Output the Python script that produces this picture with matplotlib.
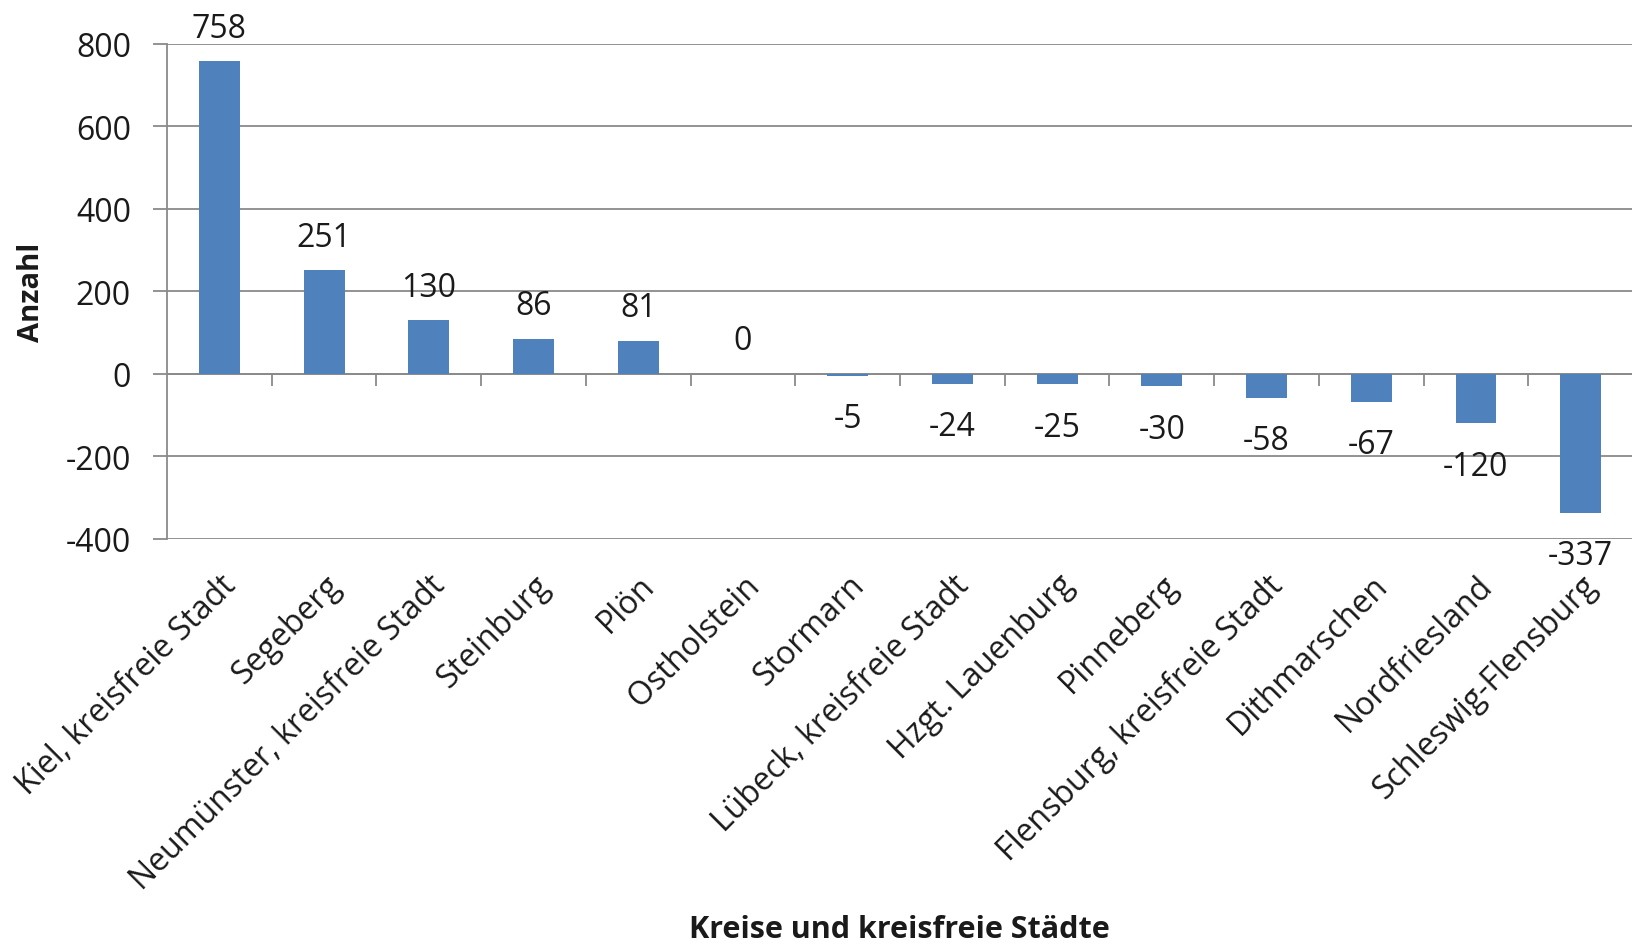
# plot.py
# Saldo je Kreis / kreisfreie Stadt als Säulendiagramm

import matplotlib.pyplot as plt
import numpy as np

kreise = ["Kiel, kreisfreie Stadt", "Segeberg", "Neumünster, kreisfreie Stadt",
          "Steinburg", "Plön", "Ostholstein", "Stormarn", "Lübeck, kreisfreie Stadt",
          "Hzgt. Lauenburg", "Pinneberg", "Flensburg, kreisfreie Stadt",
          "Dithmarschen", "Nordfriesland", "Schleswig-Flensburg"]
anzahl = [758, 251, 130, 86, 81, 0, -5, -24, -25, -30, -58, -67, -120, -337]
yticks = [-400, -200, 0, 200, 400, 600, 800]

plt.rcParams['font.family'] = ['Open Sans', 'DejaVu Sans']
textcol = '#1a1a1a'
gridcol = '#8a8a8a'
fs = 23

fig = plt.figure(figsize=(16.33, 9.45), dpi=100)
ax = fig.add_axes([0.1023, 0.4286, 0.8977, 0.5238])

x = np.arange(len(kreise))
ax.bar(x, anzahl, width=0.39, color='#4f81bd', zorder=3)

# data labels
for xi, v in zip(x, anzahl):
    if v >= 0:
        ax.annotate(str(v), (xi, v), xytext=(0, 12), textcoords='offset points',
                    ha='center', va='bottom', fontsize=fs, color=textcol)
    else:
        ax.annotate(str(v), (xi, v), xytext=(0, -19), textcoords='offset points',
                    ha='center', va='top', fontsize=fs, color=textcol)

ax.set_xlim(-0.5, len(kreise) - 0.5)
ax.set_ylim(-400, 800)
ax.set_yticks(yticks)
ax.set_yticklabels([str(t) for t in yticks])
ax.grid(axis='y', color=gridcol, linewidth=1.3, zorder=0)
ax.set_axisbelow(True)

# horizontal axis line at zero with small tick marks between categories
ax.axhline(0, color=gridcol, linewidth=1.3, zorder=2)
ax.vlines(x[:-1] + 0.5, -29, 0, color=gridcol, linewidth=1.3, zorder=2)

for s in ['top', 'right', 'bottom']:
    ax.spines[s].set_visible(False)
ax.spines['left'].set_color(gridcol)
ax.spines['left'].set_linewidth(1.3)

ax.tick_params(axis='y', length=10, width=1.3, color=gridcol, pad=16,
               labelsize=fs, labelcolor=textcol)
ax.set_xticks(x)
ax.set_xticklabels(kreise, rotation=45, ha='right', va='top',
                   rotation_mode='anchor', fontsize=fs, color=textcol)
ax.tick_params(axis='x', length=0, pad=21)

ax.set_ylabel('Anzahl', fontsize=21, fontweight='bold', color=textcol, labelpad=14)
fig.text(0.551, 0.0, 'Kreise und kreisfreie Städte', fontsize=22, fontweight='bold',
         color=textcol, ha='center', va='bottom')

fig.savefig('out.png', dpi=100)
